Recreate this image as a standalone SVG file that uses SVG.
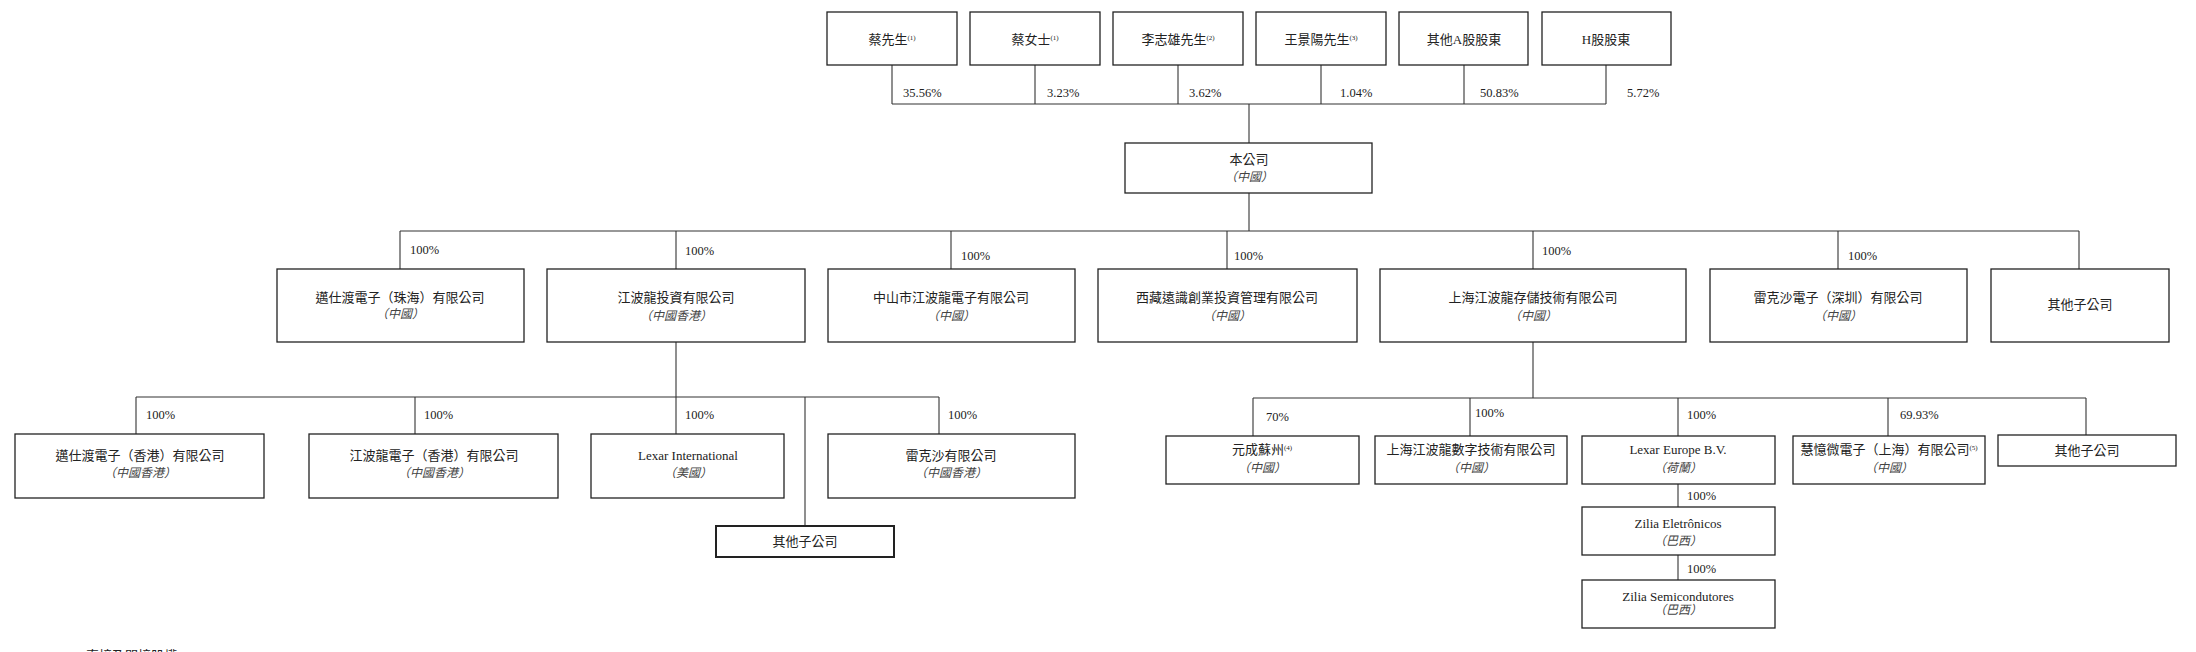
<svg xmlns="http://www.w3.org/2000/svg" width="2196" height="652" viewBox="0 0 2196 652">
<style>
rect{fill:#fff;stroke:#222;stroke-width:1.3}
.t{font-family:"Liberation Serif","Noto Sans CJK TC",serif;font-size:13px;fill:#222;text-anchor:middle}
.i{font-family:"Liberation Serif","Noto Sans CJK TC",serif;font-size:12px;fill:#444;font-style:italic;text-anchor:middle}
.p{font-family:"Liberation Serif","Noto Sans CJK TC",serif;font-size:12.5px;fill:#222}
.c line{stroke:#333;stroke-width:1.1}
sup,.s{font-size:7px}
</style>
<rect x="0" y="0" width="2196" height="652" style="fill:#fff;stroke:none"/>
<g class="c">
<line x1="892" y1="65" x2="892" y2="104"/><line x1="1035" y1="65" x2="1035" y2="104"/><line x1="1178" y1="65" x2="1178" y2="104"/><line x1="1321" y1="65" x2="1321" y2="104"/><line x1="1464" y1="65" x2="1464" y2="104"/><line x1="1606" y1="65" x2="1606" y2="104"/>
<line x1="892" y1="104" x2="1606" y2="104"/><line x1="1249" y1="104" x2="1249" y2="143"/>
<line x1="1249" y1="193" x2="1249" y2="231"/><line x1="400" y1="231" x2="2079" y2="231"/>
<line x1="400" y1="231" x2="400" y2="269"/><line x1="676" y1="231" x2="676" y2="269"/><line x1="951" y1="231" x2="951" y2="269"/><line x1="1227" y1="231" x2="1227" y2="269"/><line x1="1533" y1="231" x2="1533" y2="269"/><line x1="1838" y1="231" x2="1838" y2="269"/><line x1="2079" y1="231" x2="2079" y2="269"/>
<line x1="676" y1="342" x2="676" y2="397"/><line x1="136" y1="397" x2="939" y2="397"/>
<line x1="136" y1="397" x2="136" y2="434"/><line x1="415" y1="397" x2="415" y2="434"/><line x1="676" y1="397" x2="676" y2="434"/><line x1="939" y1="397" x2="939" y2="434"/><line x1="805" y1="397" x2="805" y2="526"/>
<line x1="1533" y1="342" x2="1533" y2="398"/><line x1="1253" y1="398" x2="2086" y2="398"/>
<line x1="1253" y1="398" x2="1253" y2="436"/><line x1="1470" y1="398" x2="1470" y2="436"/><line x1="1678" y1="398" x2="1678" y2="436"/><line x1="1888" y1="398" x2="1888" y2="436"/><line x1="2086" y1="398" x2="2086" y2="435"/>
<line x1="1678" y1="484" x2="1678" y2="507"/><line x1="1678" y1="555" x2="1678" y2="580"/>
</g>
<g class="p">
<text x="903" y="97">35.56%</text><text x="1047" y="97">3.23%</text><text x="1189" y="97">3.62%</text><text x="1340" y="97">1.04%</text><text x="1480" y="97">50.83%</text><text x="1627" y="97">5.72%</text>
<text x="410" y="254">100%</text><text x="685" y="255">100%</text><text x="961" y="260">100%</text><text x="1234" y="260">100%</text><text x="1542" y="255">100%</text><text x="1848" y="260">100%</text>
<text x="146" y="419">100%</text><text x="424" y="419">100%</text><text x="685" y="419">100%</text><text x="948" y="419">100%</text>
<text x="1266" y="421">70%</text><text x="1475" y="417">100%</text><text x="1687" y="419">100%</text><text x="1900" y="419">69.93%</text>
<text x="1687" y="500">100%</text><text x="1687" y="573">100%</text>
</g>
<g id="s1"><rect x="827" y="12" width="130" height="53"/><text class="t" x="892" y="44">蔡先生<tspan class="s" dy="-4">(1)</tspan></text></g>
<g id="s2"><rect x="970" y="12" width="130" height="53"/><text class="t" x="1035" y="44">蔡女士<tspan class="s" dy="-4">(1)</tspan></text></g>
<g id="s3"><rect x="1113" y="12" width="130" height="53"/><text class="t" x="1178" y="44">李志雄先生<tspan class="s" dy="-4">(2)</tspan></text></g>
<g id="s4"><rect x="1256" y="12" width="130" height="53"/><text class="t" x="1321" y="44">王景陽先生<tspan class="s" dy="-4">(3)</tspan></text></g>
<g id="s5"><rect x="1399" y="12" width="129" height="53"/><text class="t" x="1464" y="44">其他A股股東</text></g>
<g id="s6"><rect x="1542" y="12" width="129" height="53"/><text class="t" x="1606" y="44">H股股東</text></g>
<g id="co"><rect x="1125" y="143" width="247" height="50"/><text class="t" x="1249" y="164">本公司</text><text class="i" x="1249" y="181">（中國）</text></g>
<g id="b1"><rect x="277" y="269" width="247" height="73"/><text class="t" x="400" y="302">邁仕渡電子（珠海）有限公司</text><text class="i" x="400" y="318">（中國）</text></g>
<g id="b2"><rect x="547" y="269" width="258" height="73"/><text class="t" x="676" y="302">江波龍投資有限公司</text><text class="i" x="676" y="320">（中國香港）</text></g>
<g id="b3"><rect x="828" y="269" width="247" height="73"/><text class="t" x="951" y="302">中山市江波龍電子有限公司</text><text class="i" x="951" y="320">（中國）</text></g>
<g id="b4"><rect x="1098" y="269" width="259" height="73"/><text class="t" x="1227" y="302">西藏遠識創業投資管理有限公司</text><text class="i" x="1227" y="320">（中國）</text></g>
<g id="b5"><rect x="1380" y="269" width="306" height="73"/><text class="t" x="1533" y="302">上海江波龍存儲技術有限公司</text><text class="i" x="1533" y="320">（中國）</text></g>
<g id="b6"><rect x="1710" y="269" width="257" height="73"/><text class="t" x="1838" y="302">雷克沙電子（深圳）有限公司</text><text class="i" x="1838" y="320">（中國）</text></g>
<g id="b7"><rect x="1991" y="269" width="178" height="73"/><text class="t" x="2080" y="309">其他子公司</text></g>
<g id="c1"><rect x="15" y="434" width="249" height="64"/><text class="t" x="140" y="460">邁仕渡電子（香港）有限公司</text><text class="i" x="140" y="477">（中國香港）</text></g>
<g id="c2"><rect x="309" y="434" width="249" height="64"/><text class="t" x="434" y="460">江波龍電子（香港）有限公司</text><text class="i" x="434" y="477">（中國香港）</text></g>
<g id="c3"><rect x="591" y="434" width="193" height="64"/><text class="t" x="688" y="460">Lexar International</text><text class="i" x="688" y="477">（美國）</text></g>
<g id="c4"><rect x="828" y="434" width="247" height="64"/><text class="t" x="951" y="460">雷克沙有限公司</text><text class="i" x="951" y="477">（中國香港）</text></g>
<g id="c5"><rect x="716" y="526" width="178" height="31" style="stroke-width:2"/><text class="t" x="805" y="546">其他子公司</text></g>
<g id="d1"><rect x="1166" y="436" width="193" height="48"/><text class="t" x="1262" y="454">元成蘇州<tspan class="s" dy="-4">(4)</tspan></text><text class="i" x="1262" y="472">（中國）</text></g>
<g id="d2"><rect x="1375" y="436" width="192" height="48"/><text class="t" x="1471" y="454">上海江波龍數字技術有限公司</text><text class="i" x="1471" y="472">（中國）</text></g>
<g id="d3"><rect x="1582" y="436" width="193" height="48"/><text class="t" x="1678" y="454">Lexar Europe B.V.</text><text class="i" x="1678" y="472">（荷蘭）</text></g>
<g id="d4"><rect x="1793" y="436" width="192" height="48"/><text class="t" x="1889" y="454">慧憶微電子（上海）有限公司<tspan class="s" dy="-4">(5)</tspan></text><text class="i" x="1889" y="472">（中國）</text></g>
<g id="d5"><rect x="1998" y="435" width="178" height="31"/><text class="t" x="2087" y="455">其他子公司</text></g>
<g id="e1"><rect x="1582" y="507" width="193" height="48"/><text class="t" x="1678" y="528">Zilia Eletrônicos</text><text class="i" x="1678" y="545">（巴西）</text></g>
<g id="e2"><rect x="1582" y="580" width="193" height="48"/><text class="t" x="1678" y="601">Zilia Semicondutores</text><text class="i" x="1678" y="614">（巴西）</text></g>
<text class="p" x="86" y="660" style="font-size:13px">直接及間接股權</text>
</svg>
